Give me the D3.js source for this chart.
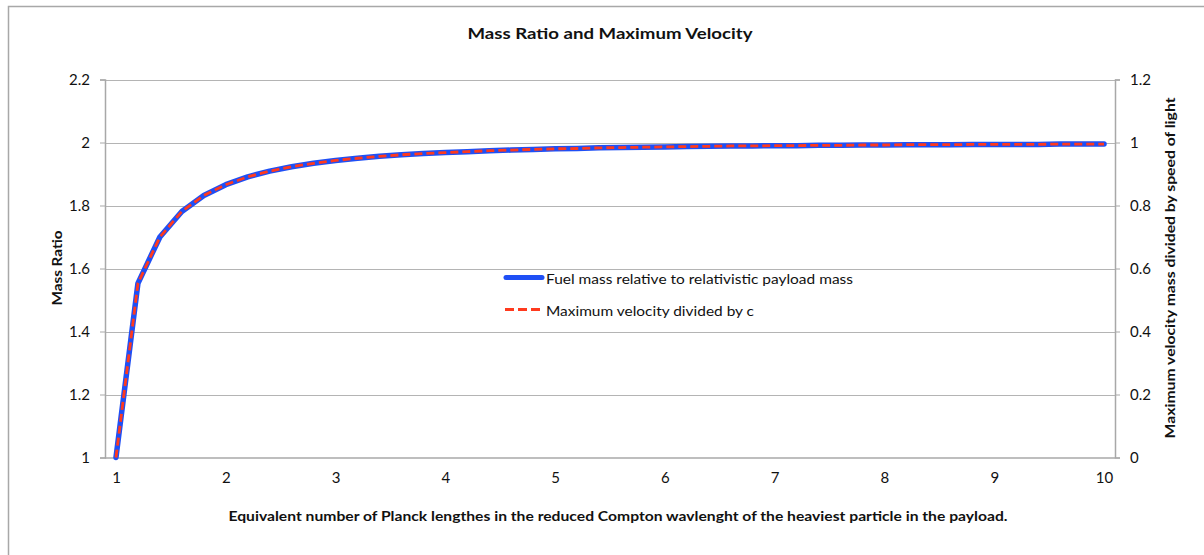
<!DOCTYPE html>
<html>
<head>
<meta charset="utf-8">
<script src="https://cdn.jsdelivr.net/npm/d3@7/dist/d3.min.js"></script>
<style>
  html, body { margin: 0; padding: 0; background: #fff; }
  svg { display: block; font-family: Lato, "Open Sans", "Liberation Sans", sans-serif; }
</style>
</head>
<body>
<svg id="chart" width="1204" height="555"></svg>
<script>
// x categories (Planck-length equivalents), step 0.2
const categories = [1.0,1.2,1.4,1.6,1.8,2.0,2.2,2.4,2.6,2.8,3.0,3.2,3.4,3.6,3.8,4.0,4.2,4.4,4.6,4.8,
  5.0,5.2,5.4,5.6,5.8,6.0,6.2,6.4,6.6,6.8,7.0,7.2,7.4,7.6,7.8,8.0,8.2,8.4,8.6,8.8,9.0,9.2,9.4,9.6,9.8,10.0];
// Fuel mass relative to relativistic payload mass (left axis)
const massRatio = [1.000,1.553,1.700,1.781,1.832,1.866,1.891,1.909,1.923,1.934,1.943,1.950,1.956,1.961,1.965,1.968,
  1.971,1.974,1.976,1.978,1.980,1.981,1.983,1.984,1.985,1.986,1.987,1.988,1.989,1.989,1.990,1.990,1.991,1.991,
  1.992,1.992,1.993,1.993,1.993,1.994,1.994,1.994,1.994,1.995,1.995,1.995];
// Maximum velocity divided by c (right axis)
const velocity = [0.000,0.553,0.700,0.781,0.832,0.866,0.891,0.909,0.923,0.934,0.943,0.950,0.956,0.961,0.965,0.968,
  0.971,0.974,0.976,0.978,0.980,0.981,0.983,0.984,0.985,0.986,0.987,0.988,0.989,0.989,0.990,0.990,0.991,0.991,
  0.992,0.992,0.993,0.993,0.993,0.994,0.994,0.994,0.994,0.995,0.995,0.995];
const xTickLabels = ["1","2","3","4","5","6","7","8","9","10"];
const leftTicks = [1,1.2,1.4,1.6,1.8,2,2.2];
const rightTicks = [0,0.2,0.4,0.6,0.8,1,1.2];
const seriesNames = ["Fuel mass relative to relativistic payload mass","Maximum velocity divided by c"];

const svg = d3.select("#chart");
const L = 105, R = 1115, T = 79.5, B = 457.5;
const gridColor = "#b4b4b4";
const blue = "#1f4ff5", red = "#ff3a1e";

// outer border
svg.append("rect").attr("x", 8.5).attr("y", 6.5).attr("width", 1300).attr("height", 700)
  .attr("fill", "none").attr("stroke", "#a8a8a8").attr("stroke-width", 1.5);

const x = d3.scalePoint().domain(categories).range([L, R]).padding(0.5);
const yL = d3.scaleLinear().domain([1, 2.2]).range([B, T]);
const yR = d3.scaleLinear().domain([0, 1.2]).range([B, T]);

// gridlines
svg.append("g").selectAll("line").data(leftTicks.slice(1)).join("line")
  .attr("x1", L).attr("x2", R).attr("y1", d => Math.round(yL(d)) + 0.5).attr("y2", d => Math.round(yL(d)) + 0.5)
  .attr("stroke", gridColor).attr("stroke-width", 1);

// left axis
const gL = svg.append("g").attr("transform", `translate(${L},0)`)
  .call(d3.axisLeft(yL).tickValues(leftTicks).tickFormat(d3.format("~g")).tickSize(5).tickPadding(10));
// right axis
const gR = svg.append("g").attr("transform", `translate(${R},0)`)
  .call(d3.axisRight(yR).tickValues(rightTicks).tickFormat(d3.format("~g")).tickSize(5).tickPadding(10));
// bottom axis
const labelCats = categories.filter(c => Math.abs(c - Math.round(c)) < 1e-9);
const gB = svg.append("g").attr("transform", `translate(0,${B})`)
  .call(d3.axisBottom(x).tickValues(labelCats).tickFormat((d, i) => xTickLabels[i]).tickSize(0).tickPadding(15));
gB.select(".domain").attr("d", `M${L},0.5H${R}`);

[gL, gR, gB].forEach(g => {
  g.select(".domain").attr("stroke", "#a8a8a8").attr("stroke-width", 1.5);
  g.selectAll(".tick line").attr("stroke", "#a8a8a8");
  g.selectAll(".tick text").attr("font-size", 15).attr("fill", "#111")
    .attr("font-family", "Lato, 'Open Sans', sans-serif");
});

// lines
const lineL = d3.line().x((d, i) => x(categories[i])).y(d => yL(d));
const lineR = d3.line().x((d, i) => x(categories[i])).y(d => yR(d));
svg.append("path").datum(massRatio).attr("d", lineL).attr("fill", "none")
  .attr("stroke", blue).attr("stroke-width", 5.5).attr("stroke-linejoin", "round").attr("stroke-linecap", "round");
svg.append("path").datum(velocity).attr("d", lineR).attr("fill", "none")
  .attr("stroke", red).attr("stroke-width", 2.8).attr("stroke-dasharray", "8,4").attr("stroke-linejoin", "round");

// title
svg.append("text").attr("x", 610).attr("y", 39).attr("text-anchor", "middle")
  .attr("font-size", 16).attr("font-weight", "bold").attr("fill", "#111")
  .attr("textLength", 285).attr("lengthAdjust", "spacingAndGlyphs")
  .text("Mass Ratio and Maximum Velocity");

// axis titles
svg.append("text").attr("transform", "translate(62,268) rotate(-90)").attr("text-anchor", "middle")
  .attr("font-size", 14).attr("font-weight", "bold").attr("fill", "#111")
  .attr("textLength", 75).attr("lengthAdjust", "spacingAndGlyphs").text("Mass Ratio");
svg.append("text").attr("transform", "translate(1175,268) rotate(-90)").attr("text-anchor", "middle")
  .attr("font-size", 14).attr("font-weight", "bold").attr("fill", "#111")
  .attr("textLength", 341).attr("lengthAdjust", "spacingAndGlyphs")
  .text("Maximum velocity mass divided by speed of light");
svg.append("text").attr("x", 618).attr("y", 521).attr("text-anchor", "middle")
  .attr("font-size", 14).attr("font-weight", "bold").attr("fill", "#111")
  .attr("textLength", 779).attr("lengthAdjust", "spacingAndGlyphs")
  .text("Equivalent number of Planck lengthes in the reduced Compton wavlenght of the heaviest particle in the payload.");

// legend
const leg = svg.append("g");
leg.append("line").attr("x1", 506).attr("x2", 542).attr("y1", 277.5).attr("y2", 277.5)
  .attr("stroke", blue).attr("stroke-width", 5).attr("stroke-linecap", "round");
leg.append("text").attr("x", 546).attr("y", 284).attr("font-size", 14).attr("fill", "#111")
  .attr("textLength", 307).attr("lengthAdjust", "spacingAndGlyphs").text(seriesNames[0]);
leg.append("line").attr("x1", 505).attr("x2", 540).attr("y1", 309.5).attr("y2", 309.5)
  .attr("stroke", red).attr("stroke-width", 2.8).attr("stroke-dasharray", "9,4");
leg.append("text").attr("x", 546).attr("y", 316).attr("font-size", 14).attr("fill", "#111")
  .attr("textLength", 208).attr("lengthAdjust", "spacingAndGlyphs").text(seriesNames[1]);
</script>
</body>
</html>
